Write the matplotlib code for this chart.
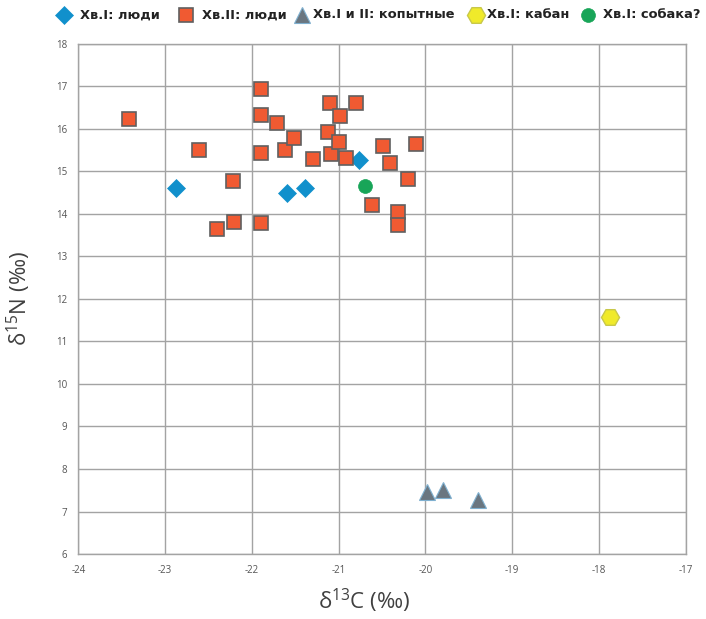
import matplotlib
matplotlib.use("Agg")
import matplotlib.pyplot as plt
from matplotlib.lines import Line2D

plt.rcParams.update({
    "font.family": ["Open Sans", "DejaVu Sans"],
    "mathtext.default": "regular",
    "axes.unicode_minus": False,
})

# Хв.I: люди
hum1_c = [-22.88, -21.60, -21.39, -20.76]
hum1_n = [14.61, 14.49, 14.61, 15.28]

# Хв.II: люди
hum2_c = [-23.42, -22.61, -22.22, -22.40, -22.20, -21.90, -21.90, -21.90, -21.90,
          -21.71, -21.62, -21.51, -21.30, -21.10, -21.12, -21.09, -20.98, -21.00,
          -20.91, -20.80, -20.61, -20.49, -20.11, -20.41, -20.20, -20.31, -20.31]
hum2_n = [16.24, 15.51, 14.78, 13.64, 13.82, 16.93, 16.33, 15.43, 13.79,
          16.13, 15.50, 15.79, 15.30, 16.61, 15.92, 15.41, 16.30, 15.69,
          15.31, 16.61, 14.21, 15.61, 15.65, 15.20, 14.82, 14.04, 13.74]

# Хв.I и II: копытные
ung_c = [-19.98, -19.80, -19.39]
ung_n = [7.47, 7.51, 7.27]

# Хв.I: кабан
boar_c = [-17.87]
boar_n = [11.58]

# Хв.I: собака?
dog_c = [-20.70]
dog_n = [14.66]

X_TICKS = list(range(-24, -16))
Y_TICKS = list(range(6, 19))

W, H = 706, 619
fig = plt.figure(figsize=(W / 100, H / 100), dpi=100)
ax = fig.add_axes([0.111, 0.105, 0.860, 0.824])

GRID = "#a3a3a3"
ax.set_xlim(-24, -17)
ax.set_ylim(6, 18)
ax.set_xticks(X_TICKS)
ax.set_yticks(Y_TICKS)
ax.grid(True, color=GRID, linewidth=1.0)
ax.set_axisbelow(True)
for sp in ax.spines.values():
    sp.set_color(GRID)
    sp.set_linewidth(1.0)
ax.tick_params(length=0, labelsize=7, colors="#555555", pad=8)

# (x, y, label, marker style, legend marker x px, legend text x px)
series = [
    (hum1_c, hum1_n, "Хв.I: люди",
     dict(marker="D", ms=9, mfc="#1190cc", mec="#1190cc", mew=0.5), 64, 80),
    (hum2_c, hum2_n, "Хв.II: люди",
     dict(marker="s", ms=10, mfc="#f05a32", mec="#606060", mew=1.2), 186, 202),
    (ung_c, ung_n, "Хв.I и II: копытные",
     dict(marker="^", ms=11.5, mfc="#6a7680", mec="#7fb0d0", mew=0.8), 302, 313),
    (boar_c, boar_n, "Хв.I: кабан",
     dict(marker="H", ms=13, mfc="#f0ea2a", mec="#c8c84a", mew=1.0), 476, 487),
    (dog_c, dog_n, "Хв.I: собака?",
     dict(marker="o", ms=10, mfc="#18a558", mec="#18a558", mew=0.5), 588, 603),
]

leg_y = 1 - 15 / H
for xs, ys, lab, st, mx, tx in series:
    ax.plot(xs, ys, linestyle="none", **st, zorder=3)
    # legend entry, drawn by hand to follow the original spacing
    fig.add_artist(Line2D([mx / W], [leg_y], transform=fig.transFigure,
                          linestyle="none", **st))
    fig.text(tx / W, leg_y, lab, ha="left", va="center", fontsize=9.4,
             family="DejaVu Sans", weight="bold", color="#222222")

ax.set_xlabel("δ$^{13}$C (‰)", fontsize=16, color="#404040")
ax.set_ylabel("δ$^{15}$N (‰)", fontsize=16, color="#404040")
ax.xaxis.set_label_coords(0.47, -0.065)
ax.yaxis.set_label_coords(-0.075, 0.5)

fig.savefig("out.png", dpi=100)
